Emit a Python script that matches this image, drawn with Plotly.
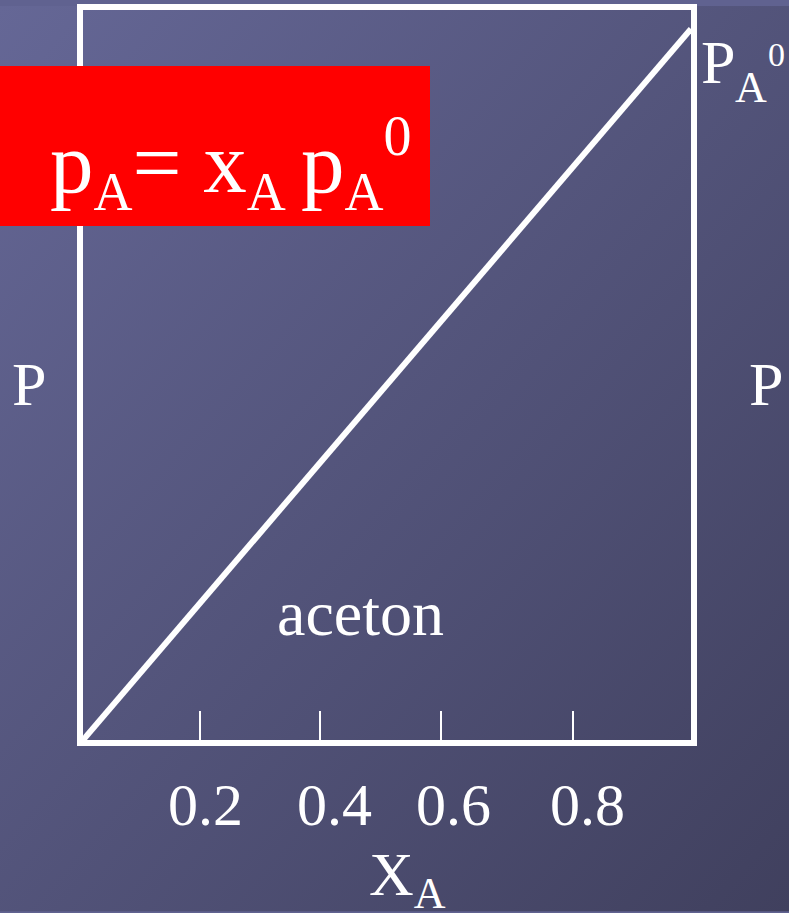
import base64
import plotly.graph_objects as go

# Raoult line for acetone: partial pressure against mole fraction
mole_frac = [0, 1]
pressure = [0, 0.974]

tick_vals = [0.192, 0.39, 0.589, 0.806]
tick_text = ["0.2", "0.4", "0.6", "0.8"]
tick_label_pos = [0.202, 0.413, 0.609, 0.829]

W, H = 789, 913

def fy(y):
    # the page comes out slightly squeezed vertically, undo that
    return (y - 5.05) / 0.9918

L, R = 83, 98
T = round(fy(6) + 3)
B = H - round(fy(742) - 3)
pw, ph = W - L - R, H - T - B

def px(x):
    return (x - L) / pw

def py(y):
    return (H - B - fy(y)) / ph

font = "Liberation Serif"

def small(s, size):
    return "<span style='font-size:%dpx'>%s</span>" % (size, s)

# slide style gradient background
svg = """<svg xmlns='http://www.w3.org/2000/svg' width='789' height='913'>
<defs><linearGradient id='g' x1='0' y1='0' x2='1' y2='1'>
<stop offset='0' stop-color='#656796'/><stop offset='1' stop-color='#40405e'/>
</linearGradient></defs><rect width='789' height='913' fill='url(#g)'/></svg>"""
bg = "data:image/svg+xml;base64," + base64.b64encode(svg.encode()).decode()

fig = go.Figure()
fig.add_trace(go.Scatter(x=mole_frac, y=pressure, mode="lines",
                         line=dict(color="white", width=6), cliponaxis=False,
                         showlegend=False, hoverinfo="skip"))

fig.update_layout(
    width=W, height=H,
    margin=dict(l=L, r=R, t=T, b=B),
    paper_bgcolor="#606290", plot_bgcolor="rgba(0,0,0,0)",
    font=dict(family=font, color="white", size=60),
    images=[dict(source=bg, xref="paper", yref="paper", x=-L / pw, y=1 + T / ph,
                 sizex=W / pw, sizey=H / ph, xanchor="left", yanchor="top",
                 sizing="stretch", layer="below")],
    shapes=[dict(type="rect", xref="paper", yref="paper",
                 x0=px(0), x1=px(430), y0=py(225), y1=py(65),
                 fillcolor="#ff0000", line=dict(width=0), layer="above")],
)
fig.update_xaxes(range=[0, 1], showline=True, linecolor="white", linewidth=6,
                 mirror=True, ticks="inside", ticklen=29, tickwidth=2,
                 tickcolor="white", tickvals=tick_vals, ticktext=tick_text,
                 showticklabels=False, showgrid=False, zeroline=False)
fig.update_yaxes(range=[0, 1], showline=True, linecolor="white", linewidth=6,
                 mirror=True, ticks="", showticklabels=False,
                 showgrid=False, zeroline=False)

eq = ("p<sub>" + small("A", 54) + "</sub>= x<sub>" + small("A", 54) + " </sub>p<sub>"
      + small("A", 54) + "</sub><sup>" + small("0", 56) + "</sup>")

ann = []
for pos, txt in zip(tick_label_pos, tick_text):
    ann.append(dict(x=pos, y=py(804), xref="x", yref="paper", text=txt,
                    font=dict(size=60)))
ann += [
    dict(x=px(407), y=py(878), text="X<sub>" + small("A", 44) + "</sub>", font=dict(size=62)),
    dict(x=px(29), y=py(383), text="P", font=dict(size=62)),
    dict(x=px(766), y=py(383), text="P", font=dict(size=62)),
    dict(x=px(360), y=py(612), text="aceton", font=dict(size=64)),
    # P_A^0 label at the end of the line, pieces placed one by one
    dict(x=px(718), y=py(61.5), text="P", font=dict(size=62)),
    dict(x=px(751), y=py(87), text="A", font=dict(size=44)),
    dict(x=px(766), y=py(54), text="0", xanchor="left", font=dict(size=34)),
    dict(x=px(48), y=py(163), text=eq, xanchor="left", font=dict(size=87)),
]
for a in ann:
    a.setdefault("xref", "paper")
    a.setdefault("yref", "paper")
    a.setdefault("xanchor", "center")
    a["yanchor"] = "middle"
    a["showarrow"] = False
fig.update_layout(annotations=ann)

fig.write_html("out.html", config={"displayModeBar": False},
               post_script="document.body.style.margin='0';document.body.style.overflow='hidden';")
